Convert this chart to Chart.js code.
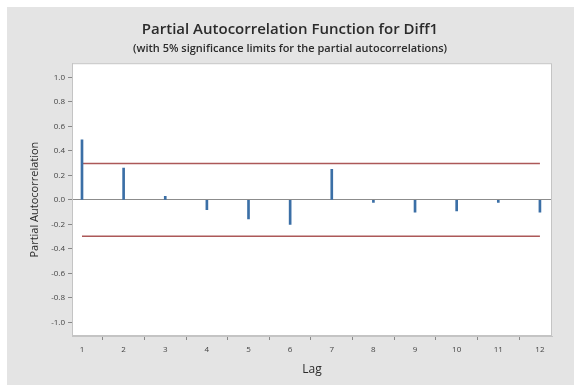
<!DOCTYPE html>
<html>
<head>
<meta charset="utf-8">
<script src="https://cdn.jsdelivr.net/npm/chart.js@4.4.1/dist/chart.umd.min.js"></script>
<style>
  body { margin: 0; background: #fff; }
  #panel { position: absolute; left: 7px; top: 7px; width: 567px; height: 378px; background: #e4e4e4; }
</style>
</head>
<body>
<div id="panel"><canvas id="chart" width="567" height="378"></canvas></div>
<script>
// data
const lags = [1, 2, 3, 4, 5, 6, 7, 8, 9, 10, 11, 12];
const pacf = [0.49, 0.26, 0.03, -0.08, -0.155, -0.20, 0.25, -0.02, -0.10, -0.09, -0.02, -0.10];
const sigLimit = 0.297;
const yTicks = [-1.0, -0.8, -0.6, -0.4, -0.2, 0.0, 0.2, 0.4, 0.6, 0.8, 1.0];

const spikes = lags.map((l, i) => ({ x: l, y: pacf[i] }));
const upper = [{ x: lags[0], y: sigLimit }, { x: lags[lags.length - 1], y: sigLimit }];
const lower = [{ x: lags[0], y: -sigLimit }, { x: lags[lags.length - 1], y: -sigLimit }];

// white plot area + box round it (Chart.js only draws the axis sides)
const frame = {
    id: "frame",
    beforeDraw(chart) {
        const { ctx, chartArea: a } = chart;
        ctx.save();
        ctx.fillStyle = "#ffffff";
        ctx.fillRect(a.left, a.top, a.width, a.height);
        ctx.restore();
    },
    afterDraw(chart) {
        const { ctx, chartArea: a } = chart;
        ctx.save();
        ctx.strokeStyle = "#c4c4c4";
        ctx.lineWidth = 1;
        ctx.strokeRect(a.left + 0.5, a.top + 0.5, a.width - 1, a.height - 1);
        ctx.restore();
    }
};

new Chart(document.getElementById("chart"), {
    type: "bar",
    data: {
        datasets: [
            {
                type: "line",
                data: upper,
                borderColor: "rgb(172,88,88)",
                borderWidth: 1.5,
                pointRadius: 0,
                order: 2
            },
            {
                type: "line",
                data: lower,
                borderColor: "rgb(172,88,88)",
                borderWidth: 1.5,
                pointRadius: 0,
                order: 2
            },
            {
                data: spikes,
                backgroundColor: "#3b6fa6",
                barThickness: 2,
                order: 1
            }
        ]
    },
    options: {
        responsive: false,
        animation: false,
        layout: { padding: { left: 21, right: 22, top: 4, bottom: 8 } },
        plugins: {
            legend: { display: false },
            tooltip: { enabled: false },
            title: {
                display: true,
                text: "Partial Autocorrelation Function for Diff1",
                color: "#2b2b2b",
                font: { family: "Open Sans", size: 15, weight: 600 },
                padding: { top: 10, bottom: 0 }
            },
            subtitle: {
                display: true,
                text: "(with 5% significance limits for the partial autocorrelations)",
                color: "#2b2b2b",
                font: { family: "Open Sans", size: 11, weight: 600 },
                padding: { top: 3, bottom: 8 }
            }
        },
        scales: {
            x: {
                type: "linear",
                min: 0.76,
                max: 12.29,
                offset: false,
                border: { color: "#c4c4c4" },
                grid: { drawOnChartArea: false, tickLength: 4, tickColor: "#888" },
                ticks: {
                    stepSize: 1,
                    includeBounds: false,
                    color: "#444",
                    font: { family: "Open Sans", size: 8 },
                    padding: 5,
                    maxRotation: 0
                },
                title: {
                    display: true,
                    text: "Lag",
                    color: "#2b2b2b",
                    font: { family: "Open Sans", size: 12 },
                    padding: { top: 2, bottom: 0 }
                },
                afterFit(scale) { scale.height = 41; }
            },
            y: {
                min: -1.11,
                max: 1.115,
                border: { color: "#c4c4c4" },
                grid: {
                    color: yTicks.map(v => (v === 0 ? "#8c8c8c" : "rgba(0,0,0,0)")),
                    lineWidth: 1,
                    tickColor: "#888",
                    tickLength: 4
                },
                afterBuildTicks(scale) { scale.ticks = yTicks.map(v => ({ value: v })); },
                ticks: {
                    color: "#444",
                    font: { family: "Open Sans", size: 8 },
                    padding: 3,
                    callback: (v) => (Math.abs(v) < 1e-9 ? "0.0" : v.toFixed(1))
                },
                title: {
                    display: true,
                    text: "Partial Autocorrelation",
                    color: "#2b2b2b",
                    font: { family: "Open Sans", size: 11 },
                    padding: { top: 0, bottom: 4 }
                },
                afterFit(scale) { scale.width = 44; }
            }
        }
    },
    plugins: [frame]
});
</script>
</body>
</html>
